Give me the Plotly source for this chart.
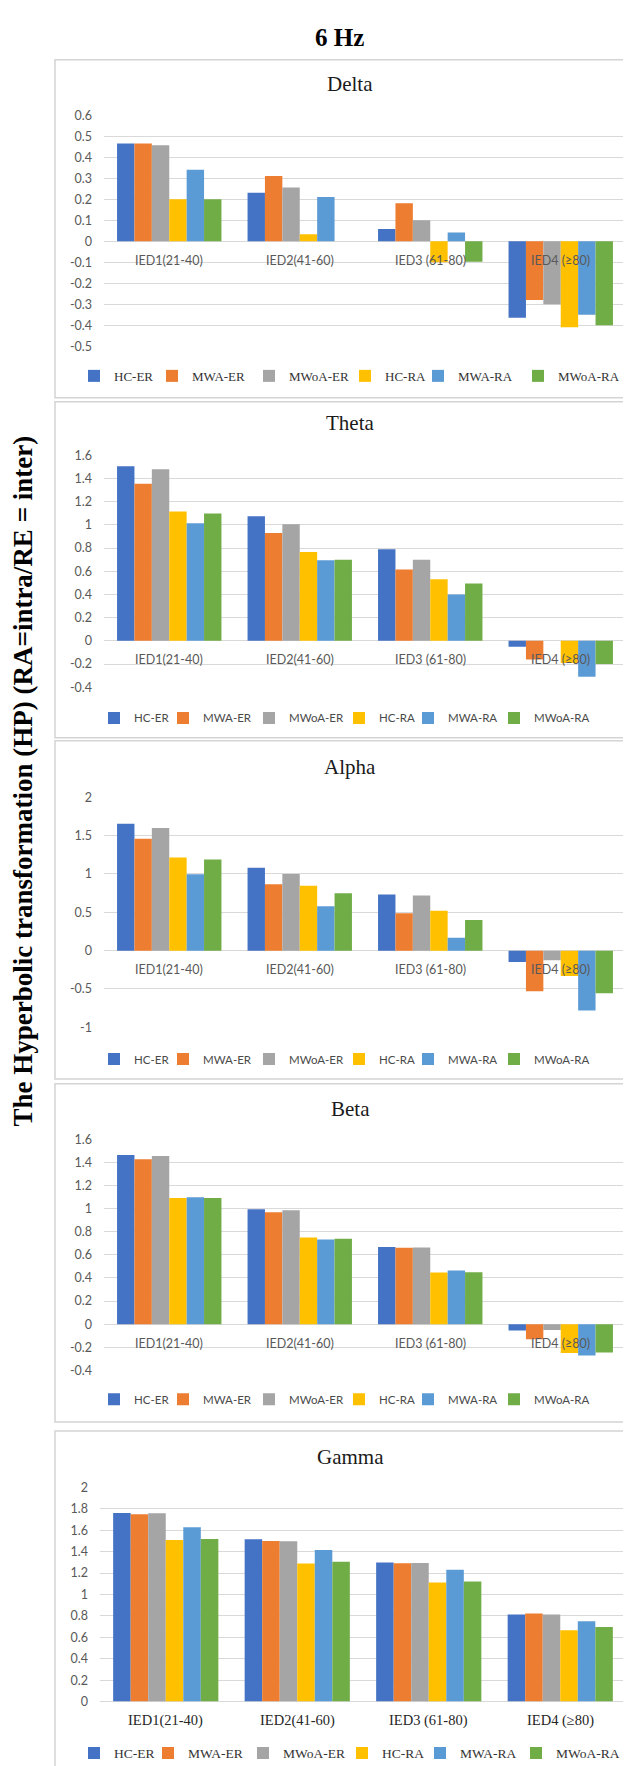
import plotly.graph_objects as go

# ---------------- data ----------------
CATEGORIES = ["IED1(21-40)", "IED2(41-60)", "IED3 (61-80)", "IED4 (≥80)"]
SERIES = ["HC-ER", "MWA-ER", "MWoA-ER", "HC-RA", "MWA-RA", "MWoA-RA"]
SERIES_COLORS = ["#4472C4", "#ED7D31", "#A5A5A5", "#FFC000", "#5B9BD5", "#70AD47"]

DELTA = {
    "HC-ER":   [0.465, 0.23, 0.058, -0.365],
    "MWA-ER":  [0.465, 0.31, 0.18, -0.28],
    "MWoA-ER": [0.457, 0.255, 0.10, -0.30],
    "HC-RA":   [0.20, 0.033, -0.10, -0.41],
    "MWA-RA":  [0.34, 0.21, 0.041, -0.35],
    "MWoA-RA": [0.20, 0.0, -0.098, -0.40],
}
THETA = {
    "HC-ER":   [1.506, 1.074, 0.789, -0.05],
    "MWA-ER":  [1.354, 0.929, 0.614, -0.16],
    "MWoA-ER": [1.48, 1.006, 0.70, 0.0],
    "HC-RA":   [1.114, 0.766, 0.531, -0.19],
    "MWA-RA":  [1.014, 0.694, 0.40, -0.31],
    "MWoA-RA": [1.097, 0.70, 0.494, -0.20],
}
ALPHA = {
    "HC-ER":   [1.655, 1.082, 0.733, -0.147],
    "MWA-ER":  [1.46, 0.866, 0.487, -0.53],
    "MWoA-ER": [1.60, 1.0, 0.72, -0.125],
    "HC-RA":   [1.215, 0.845, 0.52, -0.33],
    "MWA-RA":  [0.996, 0.578, 0.168, -0.78],
    "MWoA-RA": [1.19, 0.75, 0.40, -0.556],
}
BETA = {
    "HC-ER":   [1.465, 0.995, 0.668, -0.054],
    "MWA-ER":  [1.428, 0.97, 0.662, -0.13],
    "MWoA-ER": [1.457, 0.986, 0.665, -0.05],
    "HC-RA":   [1.092, 0.751, 0.447, -0.25],
    "MWA-RA":  [1.098, 0.734, 0.465, -0.27],
    "MWoA-RA": [1.092, 0.74, 0.45, -0.245],
}
GAMMA = {
    "HC-ER":   [1.762, 1.515, 1.298, 0.813],
    "MWA-ER":  [1.75, 1.50, 1.292, 0.822],
    "MWoA-ER": [1.759, 1.496, 1.295, 0.813],
    "HC-RA":   [1.508, 1.289, 1.113, 0.665],
    "MWA-RA":  [1.629, 1.416, 1.23, 0.751],
    "MWoA-RA": [1.518, 1.305, 1.122, 0.696],
}

DELTA_TICKS = [0.6, 0.5, 0.4, 0.3, 0.2, 0.1, 0, -0.1, -0.2, -0.3, -0.4, -0.5]
DELTA_TICK_LABELS = ["0.6", "0.5", "0.4", "0.3", "0.2", "0.1", "0", "-0.1", "-0.2", "-0.3", "-0.4", "-0.5"]
THETA_TICKS = [1.6, 1.4, 1.2, 1.0, 0.8, 0.6, 0.4, 0.2, 0, -0.2, -0.4]
THETA_TICK_LABELS = ["1.6", "1.4", "1.2", "1", "0.8", "0.6", "0.4", "0.2", "0", "-0.2", "-0.4"]
ALPHA_TICKS = [2, 1.5, 1, 0.5, 0, -0.5, -1]
ALPHA_TICK_LABELS = ["2", "1.5", "1", "0.5", "0", "-0.5", "-1"]
BETA_TICKS = [1.6, 1.4, 1.2, 1.0, 0.8, 0.6, 0.4, 0.2, 0, -0.2, -0.4]
BETA_TICK_LABELS = ["1.6", "1.4", "1.2", "1", "0.8", "0.6", "0.4", "0.2", "0", "-0.2", "-0.4"]
GAMMA_TICKS = [2, 1.8, 1.6, 1.4, 1.2, 1.0, 0.8, 0.6, 0.4, 0.2, 0]
GAMMA_TICK_LABELS = ["2", "1.8", "1.6", "1.4", "1.2", "1", "0.8", "0.6", "0.4", "0.2", "0"]

MAIN_TITLE = "6 Hz"
Y_TITLE = "The Hyperbolic transformation (HP) (RA=intra/RE = inter)"

# ---------------- layout helpers ----------------
W, H = 631, 1766
SERIF = "Liberation Serif, Times New Roman, serif"
SANS = "Lato, Carlito, Calibri, sans-serif"
GRID = "#D9D9D9"


def X(px):
    return px / W


def Y(py):
    return 1 - py / H


serif_legend = dict(family=SERIF, size=13, color="#333333")
sans_legend = dict(family=SANS, size=11.5, color="#4A4A4A")
sans_cat = dict(family=SANS, size=12.5, color="#595959")
serif_cat = dict(family=SERIF, size=14.5, color="#262626")

# left edges of the legend swatches (pixels) for each panel
PANELS = [
    dict(name="Delta", values=DELTA, ticks=DELTA_TICKS, labels=DELTA_TICK_LABELS,
         top=100, bottom=333, left=96, title_y=69, legend_y=363, box=(44, 385),
         swatches=[94, 172, 269, 365, 438, 538], legend_font=serif_legend, cat_font=sans_cat),
    dict(name="Theta", values=THETA, ticks=THETA_TICKS, labels=THETA_TICK_LABELS,
         top=443, bottom=677, left=96, title_y=410, legend_y=708, box=(389, 728),
         swatches=[114, 183, 269, 359, 428, 514], legend_font=sans_legend, cat_font=sans_cat),
    dict(name="Alpha", values=ALPHA, ticks=ALPHA_TICKS, labels=ALPHA_TICK_LABELS,
         top=788, bottom=1020, left=96, title_y=757, legend_y=1052, box=(731, 1072),
         swatches=[114, 183, 269, 359, 428, 514], legend_font=sans_legend, cat_font=sans_cat),
    dict(name="Beta", values=BETA, ticks=BETA_TICKS, labels=BETA_TICK_LABELS,
         top=1133, bottom=1366, left=96, title_y=1102, legend_y=1395, box=(1077, 1418),
         swatches=[114, 183, 269, 359, 428, 514], legend_font=sans_legend, cat_font=sans_cat),
    dict(name="Gamma", values=GAMMA, ticks=GAMMA_TICKS, labels=GAMMA_TICK_LABELS,
         top=1484, bottom=1700, left=92, title_y=1453, legend_y=1752, box=(1427, 1775),
         swatches=[94, 168, 263, 362, 440, 536], legend_font=serif_legend | dict(size=13.5),
         cat_font=serif_cat),
]

fig = go.Figure()
layout = {}
annotations = []
shapes = []

for i, p in enumerate(PANELS):
    s = "" if i == 0 else str(i + 1)
    leg = "legend" if i == 0 else f"legend{i + 1}"
    sw = p["swatches"]
    for j, ser in enumerate(SERIES):
        lw = (sw[j + 1] - sw[j] - 45) if j < len(SERIES) - 1 else None
        fig.add_trace(go.Bar(
            x=CATEGORIES, y=p["values"][ser], name=ser,
            marker=dict(color=SERIES_COLORS[j], line=dict(width=0)),
            xaxis=f"x{s}", yaxis=f"y{s}", legend=leg, legendwidth=lw,
        ))
    layout[f"xaxis{s}"] = dict(
        domain=[X(p["left"]), X(618)], anchor=f"y{s}", type="category",
        categoryorder="array", categoryarray=CATEGORIES,
        showticklabels=False, showgrid=False, zeroline=False, showline=False, ticks="",
    )
    layout[f"yaxis{s}"] = dict(
        domain=[Y(p["bottom"]), Y(p["top"])], anchor=f"x{s}",
        range=[min(p["ticks"]), max(p["ticks"])],
        tickmode="array", tickvals=p["ticks"], ticktext=p["labels"],
        showgrid=True, gridcolor=GRID, gridwidth=1,
        zeroline=True, zerolinecolor=GRID, zerolinewidth=1,
        showline=False, ticks="", ticklabelstandoff=11,
        tickfont=dict(family=SANS, size=12.5, color="#595959"),
    )
    layout[leg] = dict(
        orientation="h", x=X(sw[0] - 28), xanchor="left",
        y=Y(p["legend_y"]), yanchor="middle",
        bgcolor="rgba(0,0,0,0)", font=p["legend_font"], itemwidth=30, traceorder="normal",
    )
    # panel title
    annotations.append(dict(
        text=p["name"], x=X(342), y=Y(p["title_y"]), xref="paper", yref="paper",
        xanchor="center", yanchor="middle", showarrow=False,
        font=dict(family=SERIF, size=21, color="#1A1A1A"),
    ))
    # category labels next to the zero line
    for c in CATEGORIES:
        annotations.append(dict(
            text=c, x=c, y=0, xref=f"x{s}", yref=f"y{s}", xanchor="center", yanchor="middle",
            yshift=-19, showarrow=False, font=p["cat_font"],
        ))
    # chart border
    shapes.append(dict(
        type="rect", xref="paper", yref="paper", x0=X(47), x1=X(633),
        y0=Y(p["box"][1]), y1=Y(p["box"][0]), line=dict(color="#D4D4D4", width=1.5),
        fillcolor="rgba(0,0,0,0)", layer="below",
    ))

annotations.append(dict(
    text=f"<b>{MAIN_TITLE}</b>", x=X(331), y=Y(22), xref="paper", yref="paper",
    xanchor="center", yanchor="middle", showarrow=False,
    font=dict(family=SERIF, size=25, color="#000000"),
))
annotations.append(dict(
    text=f"<b>{Y_TITLE}</b>", x=X(15), y=Y(772), xref="paper", yref="paper",
    xanchor="center", yanchor="middle", showarrow=False, textangle=-90,
    font=dict(family=SERIF, size=27, color="#000000"),
))

fig.update_layout(
    width=W, height=H, margin=dict(l=0, r=0, t=0, b=0),
    paper_bgcolor="white", plot_bgcolor="white",
    barmode="group", bargap=0.2, bargroupgap=0,
    annotations=annotations, shapes=shapes, showlegend=True,
    **layout,
)

fig.write_html("out.html")
